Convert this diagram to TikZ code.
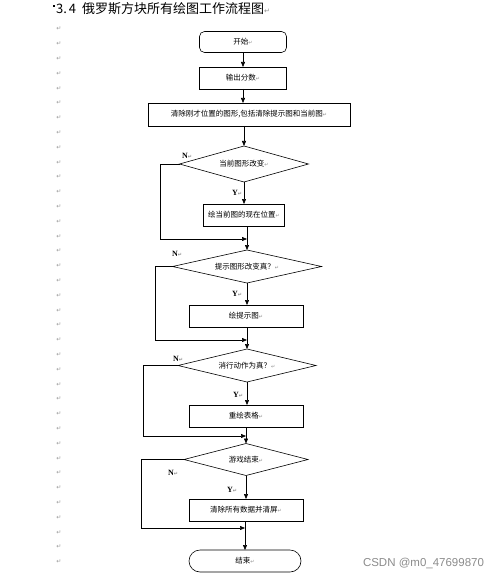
\documentclass[tikz,border=0pt]{standalone}
\usepackage{fontspec}
\setmainfont{Liberation Serif}
\newfontfamily\cjk{Noto Sans CJK SC}
\newfontfamily\symf{DejaVu Sans}
\newfontfamily\wmf{Liberation Sans}
\usetikzlibrary{shapes.geometric,arrows.meta}
\newcommand{\pmk}{{\symf\fontsize{5}{5}\selectfont\textcolor{black!45}{↵}}}
\begin{document}
\begin{tikzpicture}[x=1pt,y=-1pt,
  every node/.style={inner sep=0pt, outer sep=0pt, font=\cjk\fontsize{7.5}{9}\selectfont},
  box/.style={draw, line width=0.6pt, rectangle},
  dia/.style={draw, line width=0.6pt, diamond, shape aspect=3.5},
  term/.style={draw, line width=0.6pt, rectangle, rounded corners=5pt},
  arr/.style={line width=0.6pt, -{Triangle[length=5pt,width=4pt]}},
  yn/.style={font=\fontsize{8}{9}\selectfont\bfseries, anchor=west},
  pm/.style={font=\symf\fontsize{6}{6}\selectfont, text=black!40},
]
\useasboundingbox (0,0) rectangle (500,577);
\fill[white] (0,0) rectangle (500,577);

% title
\node[anchor=west, font=\cjk\fontsize{13}{14}\selectfont] (title) at (53,9)
  {\raisebox{7pt}{\rule{1.6pt}{1.6pt}}\hspace{1.5pt}3.\hspace{2pt}4\hspace{6pt}俄罗斯方块所有绘图工作流程图{\symf\fontsize{7}{7}\selectfont\textcolor{black!45}{↵}}};

% paragraph marks in the margin
\foreach \i in {0,...,36}
  \node[pm] (m\i) at (59,{29+14.8*\i}) {↵};

% nodes
\node[term, minimum width=87pt, minimum height=21pt] (start) at (243,42) {开始\pmk};
\node[box, minimum width=87pt, minimum height=22pt] (out) at (243,78) {输出分数\pmk};
\node[box, minimum width=202pt, minimum height=23pt] (clr) at (249,114.5) {清除刚才位置的图形,包括清除提示图和当前图\pmk};
\node[dia, minimum width=129pt, minimum height=36pt] (d1) at (244,164) {当前图形改变\pmk};
\node[box, minimum width=81pt, minimum height=22pt] (b1) at (244,215) {绘当前图的现在位置\pmk};
\node[dia, minimum width=149pt, minimum height=33pt] (d2) at (247,266.5) {提示图形改变真？\pmk};
\node[box, minimum width=114pt, minimum height=22pt] (b2) at (246,316) {绘提示图\pmk};
\node[dia, minimum width=138pt, minimum height=33pt] (d3) at (247,365.5) {消行动作为真？\pmk};
\node[box, minimum width=114pt, minimum height=22pt] (b3) at (246,416) {重绘表格\pmk};
\node[dia, minimum width=124pt, minimum height=32pt] (d4) at (246,459.5) {游戏结束\pmk};
\node[box, minimum width=114pt, minimum height=22pt] (b4) at (246,510) {清除所有数据并清屏\pmk};
\node[term, rounded corners=11pt, minimum width=112pt, minimum height=22pt] (end) at (245,561) {结束\pmk};

% join points
\coordinate (j1) at (d2.north |- 0,239);
\coordinate (j2) at (d3.north |- 0,340);
\coordinate (j3) at (d4.north |- 0,436);
\coordinate (j4) at (end.north |- 0,528);

% main flow
\draw[arr] (start.south) -- (out.north);
\draw[arr] (out.south) -- (out.south |- clr.north);
\draw[arr] (d1.north |- clr.south) -- (d1.north);
\draw[arr] (d1.south) -- (b1.north);
\draw[arr] (d2.north |- b1.south) -- (d2.north);
\draw[arr] (d2.south) -- (d2.south |- b2.north);
\draw[arr] (d3.north |- b2.south) -- (d3.north);
\draw[arr] (d3.south) -- (d3.south |- b3.north);
\draw[arr] (d4.north |- b3.south) -- (d4.north);
\draw[arr] (d4.south) -- (d4.south |- b4.north);
\draw[arr] (end.north |- b4.south) -- (end.north);

% N loops
\draw[arr] (d1.west) -- ++(-19,0) |- (j1);
\draw[arr] (d2.west) -- ++(-17.5,0) |- (j2);
\draw[arr] (d3.west) -- ++(-35,0) |- (j3);
\draw[arr] (d4.west) -- ++(-43,0) |- (j4);

% labels
\node[yn] (n1) at (182,156) {N\pmk};
\node[yn] (y1) at (232,193) {Y\pmk};
\node[yn] (n2) at (172,254) {N\pmk};
\node[yn] (y2) at (232,294) {Y\pmk};
\node[yn] (n3) at (173,359) {N\pmk};
\node[yn] (y3) at (233,395) {Y\pmk};
\node[yn] (n4) at (168,473) {N\pmk};
\node[yn] (y4) at (227,490) {Y\pmk};

% watermark
\node[anchor=west, font=\wmf\fontsize{11.5}{12}\selectfont, text=black!45] (wm) at (363,563) {CSDN @m0\_47699870};
\end{tikzpicture}
\end{document}
